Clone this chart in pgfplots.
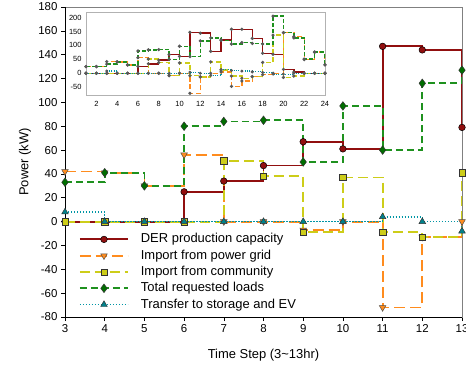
\documentclass[border=0pt]{standalone}
\usepackage{pgfplots}
\pgfplotsset{compat=1.18}
\usepackage{fontspec}
\setmainfont{Liberation Sans}
\definecolor{cder}{RGB}{145,15,15}
\definecolor{cgrid}{RGB}{255,140,30}
\definecolor{ccom}{RGB}{205,205,25}
\definecolor{cload}{RGB}{30,145,30}
\definecolor{cloadm}{RGB}{0,110,0}
\definecolor{cst}{RGB}{0,150,165}
\definecolor{cstm}{RGB}{0,130,140}
\begin{document}
\begin{tikzpicture}
\begin{axis}[
  at={(0,0)}, anchor=south west,
  scale only axis, width=397bp, height=310bp,
  xmin=3, xmax=13, ymin=-80, ymax=180,
  xtick={3,...,13}, ytick={-80,-60,...,180},
  xtick pos=lower, ytick pos=left,
  tick align=outside, major tick length=4bp,
  tick style={black, line width=0.6bp},
  axis line style={gray, line width=0.8bp},
  ticklabel style={font=\fontsize{11.5}{13}\selectfont},
  /pgf/number format/assume math mode=true,
  xlabel={Time Step (3\textasciitilde 13hr)}, ylabel={Power (kW)},
  label style={font=\fontsize{13}{15}\selectfont},
  xlabel style={at={(axis description cs:0.5,-0.1226)}, anchor=center},
  ylabel style={at={(axis description cs:-0.101,0.5)}, anchor=center},
  legend cell align=left,
  legend image code/.code={\draw[mark repeat=2,mark phase=2] plot coordinates {(0bp,0bp) (24bp,0bp) (48bp,0bp)};},
  legend style={at={(axis description cs:0.035,0.02)}, anchor=south west, draw=none, fill=none,
    inner sep=0pt, row sep=4.3bp, column sep=12bp,
    font=\fontsize{13}{15}\selectfont,
    nodes={inner sep=0pt, text height=9.5bp, text depth=2.5bp}},
  every axis plot/.append style={const plot mark left, line width=1.8bp},
]
\addplot[cder, solid, line width=1.8bp, mark=*, mark size=3.3bp, mark options={fill=cder, draw=black, line width=0.5bp}]
 coordinates {(3,0)(4,0)(5,0)(6,25)(7,34)(8,47)(9,67)(10,61)(11,147)(12,144)(13,79)};
\addlegendentry{DER production capacity}
\addplot[cgrid, line width=1.8bp, dash pattern=on 11bp off 5bp, mark=triangle*, mark size=3.8bp, mark options={rotate=180, solid, fill=cgrid, draw=black!70, line width=0.5bp}]
 coordinates {(3,42)(4,41)(5,30)(6,56)(7,0)(8,0)(9,-7)(10,0)(11,-72)(12,-13)(13,0)};
\addlegendentry{Import from power grid}
\addplot[ccom, line width=1.8bp, dash pattern=on 10bp off 5bp, mark=square*, mark size=3.2bp, mark options={solid, fill=ccom, draw=black!80, line width=0.5bp}]
 coordinates {(3,0)(4,0)(5,0)(6,0)(7,51)(8,38)(9,-9)(10,37)(11,-9)(12,-13)(13,41)};
\addlegendentry{Import from community}
\addplot[cload, line width=1.8bp, dash pattern=on 7bp off 4bp, mark=diamond*, mark size=4.3bp, mark options={solid, fill=cloadm, draw=black!80, line width=0.5bp}]
 coordinates {(3,33)(4,41)(5,30)(6,80)(7,84)(8,85)(9,50)(10,97)(11,60)(12,116)(13,127)};
\addlegendentry{Total requested loads}
\addplot[cst, line width=1.5bp, dash pattern=on 1.3bp off 1.7bp, mark=triangle*, mark size=3.8bp, mark options={solid, fill=cstm, draw=black!80, line width=0.5bp}]
 coordinates {(3,8)(4,0)(5,0)(6,0)(7,0)(8,0)(9,0)(10,0)(11,4)(12,0)(13,-8)};
\addlegendentry{Transfer to storage and EV}
\draw[black, line width=0.8bp] (rel axis cs:0,1) -- (rel axis cs:0,0) -- (rel axis cs:1,0);
\end{axis}
\begin{axis}[
  at={(21bp,222bp)}, anchor=south west,
  scale only axis, width=239bp, height=83bp,
  xmin=1, xmax=24, ymin=-78, ymax=220,
  xtick={2,4,...,24}, ytick={-50,0,...,200},
  major tick length=0pt,
  axis background/.style={fill=white},
  axis line style={gray!60, line width=0.7bp},
  ticklabel style={font=\fontsize{7.5}{9}\selectfont},
  xticklabel style={yshift=-2.5bp},
  yticklabel style={xshift=-1bp},
  /pgf/number format/assume math mode=true,
  every axis plot/.append style={const plot mark left, mark=*, mark size=0.8bp, mark options={solid, fill=black!65, draw=black!65}},
]
\addplot[cder, solid, line width=1.4bp]
 coordinates {(1,0)(2,0)(3,0)(4,0)(5,0)(6,25)(7,34)(8,47)(9,67)(10,61)(11,147)(12,144)(13,79)(14,120)(15,158)(16,158)(17,125)(18,72)(19,68)(20,14)(21,4)(22,0)(23,0)(24,0)};
\addplot[cgrid, line width=1.4bp, dash pattern=on 5bp off 2.5bp]
 coordinates {(1,24)(2,24)(3,42)(4,41)(5,30)(6,56)(7,0)(8,0)(9,-7)(10,0)(11,-72)(12,-13)(13,0)(14,5)(15,-47)(16,-28)(17,-12)(18,-5)(19,0)(20,146)(21,132)(22,49)(23,76)(24,30)};
\addplot[ccom, line width=1.4bp, dash pattern=on 5bp off 2.5bp]
 coordinates {(1,0)(2,0)(3,0)(4,0)(5,0)(6,0)(7,51)(8,38)(9,-9)(10,37)(11,-9)(12,-13)(13,41)(14,12)(15,-10)(16,-18)(17,-12)(18,39)(19,137)(20,-15)(21,-10)(22,0)(23,0)(24,0)};
\addplot[cload, line width=1.4bp, dash pattern=on 4bp off 2bp]
 coordinates {(1,24)(2,24)(3,33)(4,41)(5,30)(6,80)(7,84)(8,85)(9,50)(10,97)(11,60)(12,116)(13,127)(14,118)(15,105)(16,110)(17,107)(18,105)(19,205)(20,146)(21,127)(22,51)(23,76)(24,30)};
\addplot[cst, line width=1.2bp, dash pattern=on 1bp off 1.3bp]
 coordinates {(1,0)(2,0)(3,8)(4,0)(5,0)(6,0)(7,0)(8,0)(9,0)(10,0)(11,4)(12,0)(13,-8)(14,13)(15,10)(16,8)(17,5)(18,3)(19,-3)(20,-3)(21,0)(22,0)(23,0)(24,0)};
\end{axis}
\pgfresetboundingbox
\path[use as bounding box] (-65bp,-51bp) rectangle (401bp,317bp);
\end{tikzpicture}
\end{document}
